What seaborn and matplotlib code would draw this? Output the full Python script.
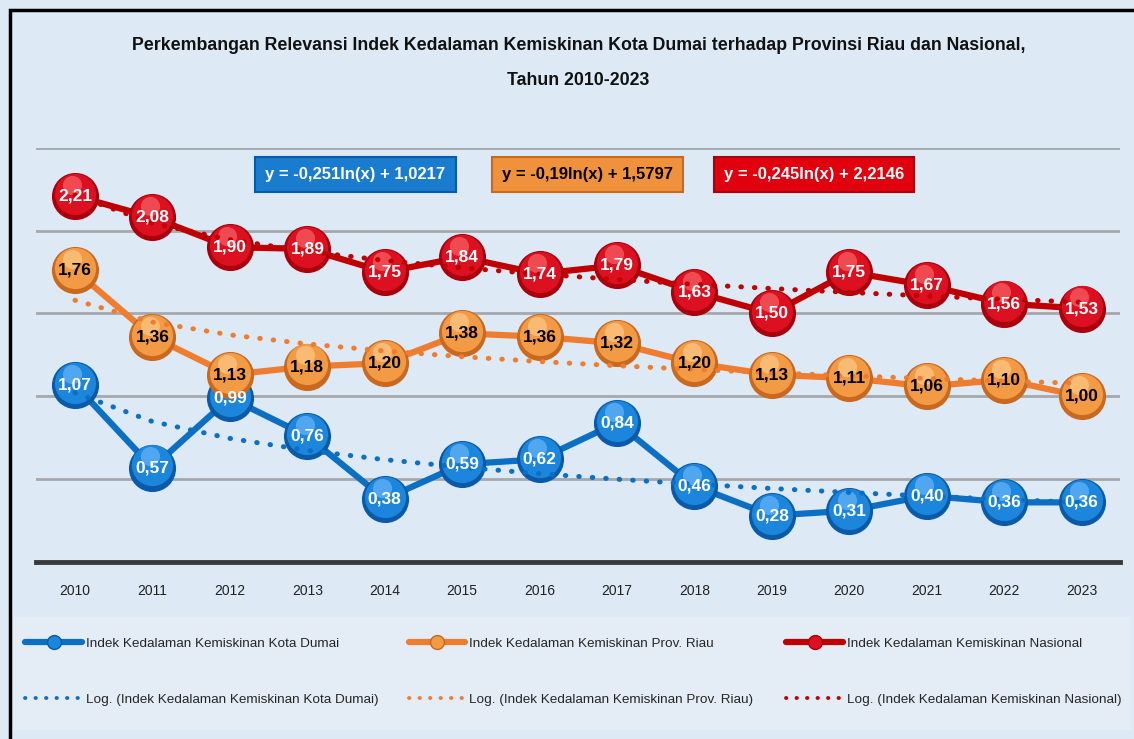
import numpy as np
import pandas as pd
import matplotlib
matplotlib.use("Agg")
import matplotlib.pyplot as plt
import matplotlib.transforms as mtransforms
from matplotlib.lines import Line2D
from matplotlib.patches import Rectangle
import seaborn as sns

years = list(range(2010, 2024))
dumai = [1.07, 0.57, 0.99, 0.76, 0.38, 0.59, 0.62, 0.84, 0.46, 0.28, 0.31, 0.40, 0.36, 0.36]
riau = [1.76, 1.36, 1.13, 1.18, 1.20, 1.38, 1.36, 1.32, 1.20, 1.13, 1.11, 1.06, 1.10, 1.00]
nasional = [2.21, 2.08, 1.90, 1.89, 1.75, 1.84, 1.74, 1.79, 1.63, 1.50, 1.75, 1.67, 1.56, 1.53]

# log trend coefficients as printed on the chart: y = a*ln(x) + b
trend_a = [-0.251, -0.19, -0.245]
trend_b = [1.0217, 1.5797, 2.2146]
eq_labels = ["y = -0,251ln(x) + 1,0217", "y = -0,19ln(x) + 1,5797", "y = -0,245ln(x) + 2,2146"]

names = ["Indek Kedalaman Kemiskinan Kota Dumai",
         "Indek Kedalaman Kemiskinan Prov. Riau",
         "Indek Kedalaman Kemiskinan Nasional"]

sns.set_style("white")
plt.rcParams["font.family"] = ["Liberation Sans", "DejaVu Sans"]

line_col = ["#0b6fc4", "#ee7d30", "#c00000"]
ball_dark = ["#0a5aa8", "#c9681f", "#a8000c"]
ball_mid = ["#1c86dc", "#f39a45", "#dc1020"]
ball_light = ["#7cc4ff", "#ffd59a", "#ff7a7a"]
txt_col = ["white", "black", "white"]
bg = "#dde9f5"

fig = plt.figure(figsize=(11.34, 7.39), dpi=100, facecolor=bg)
fig.patches.append(Rectangle((0.009, -0.01), 1.1, 0.997, transform=fig.transFigure,
                             fill=False, edgecolor="black", lw=2.5))
fig.patches.append(Rectangle((0.012, 0.012), 0.985, 0.153, transform=fig.transFigure,
                             facecolor="#e4edf6", edgecolor="none", zorder=0))

ax = fig.add_axes([0.032, 0.2395, 0.956, 0.5605])
ax.set_facecolor(bg)

df = pd.DataFrame({"year": years * 3,
                   "value": dumai + riau + nasional,
                   "series": sum([[n] * len(years) for n in names], [])})

xs = np.arange(1, len(years) + 1)
series_vals = [dumai, riau, nasional]
for i, name in enumerate(names):
    sub = df[df["series"] == name]
    sns.lineplot(data=sub, x="year", y="value", color=line_col[i], lw=4.5, ax=ax,
                 zorder=3 + i * 3, legend=False, solid_capstyle="round")
    # balls
    ax.scatter(years, series_vals[i], s=1150, color=ball_dark[i], zorder=4 + i * 3, clip_on=False, lw=0)
    up = mtransforms.offset_copy(ax.transData, fig=fig, x=0, y=1.5, units="points")
    ax.scatter(years, series_vals[i], s=880, color=ball_mid[i], zorder=4 + i * 3, clip_on=False,
               lw=0, transform=up)
    hl = mtransforms.offset_copy(ax.transData, fig=fig, x=-2, y=8, units="points")
    ax.scatter(years, series_vals[i], s=190, color=ball_light[i], alpha=0.55, zorder=4 + i * 3,
               clip_on=False, lw=0, transform=hl)
    trend = trend_a[i] * np.log(xs) + trend_b[i]
    ax.plot(years, trend, color=line_col[i], lw=3.6, linestyle=(0, (0.1, 2.6)),
            dash_capstyle="round", zorder=5 + i * 3)
    for x, v in zip(years, series_vals[i]):
        ax.text(x, v, f"{v:.2f}".replace(".", ","), ha="center", va="center",
                fontsize=12.5, fontweight="bold", color=txt_col[i], zorder=20)

ax.set_xlim(2009.5, 2023.5)
ax.set_ylim(0, 2.5)
ax.set_yticks([0.5, 1.0, 1.5, 2.0, 2.5])
ax.yaxis.grid(True, color="#a6a8ab", lw=2)
ax.set_axisbelow(True)
ax.set_yticklabels([])
ax.tick_params(axis="y", length=0)
ax.set_xticks(years)
ax.set_xticklabels([str(y) for y in years], fontsize=10, color="#222222")
ax.tick_params(axis="x", length=0, pad=16)
ax.set_xlabel("")
ax.set_ylabel("")
for s in ["top", "right", "left"]:
    ax.spines[s].set_visible(False)
ax.spines["bottom"].set_color("#3a3a3a")
ax.spines["bottom"].set_linewidth(3.5)

fig.text(0.51, 0.938, "Perkembangan Relevansi Indek Kedalaman Kemiskinan Kota Dumai terhadap Provinsi Riau dan Nasional,",
         ha="center", va="center", fontsize=12.8, fontweight="bold", color="#111111")
fig.text(0.51, 0.891, "Tahun 2010-2023", ha="center", va="center", fontsize=12.8,
         fontweight="bold", color="#111111")

box_fc = ["#1a7ccf", "#f0913c", "#e0000e"]
box_x = [0.3135, 0.518, 0.718]
for i in range(3):
    fig.text(box_x[i], 0.7645, eq_labels[i], ha="center", va="center", fontsize=12,
             fontweight="bold", color=txt_col[i],
             bbox=dict(boxstyle="square,pad=0.6", fc=box_fc[i], ec=ball_dark[i], lw=1.5))

leg_x = [0.02, 0.358, 0.691]
for i in range(3):
    h1 = Line2D([0], [0], color=line_col[i], lw=4.5, marker="o", markersize=10,
                markerfacecolor=ball_mid[i], markeredgecolor=ball_dark[i])
    h2 = Line2D([0], [0], color=line_col[i], lw=2.8, linestyle=(0, (0.1, 2.6)),
                dash_capstyle="round")
    fig.legend([h1, h2], [names[i], f"Log. ({names[i]})"], loc="center left",
               bbox_to_anchor=(leg_x[i], 0.0913), frameon=False, fontsize=9.7,
               handlelength=4.2, handletextpad=0.3, labelspacing=3.2,
               borderaxespad=0, borderpad=0.2)

fig.savefig("out.png", dpi=100, facecolor=bg)
